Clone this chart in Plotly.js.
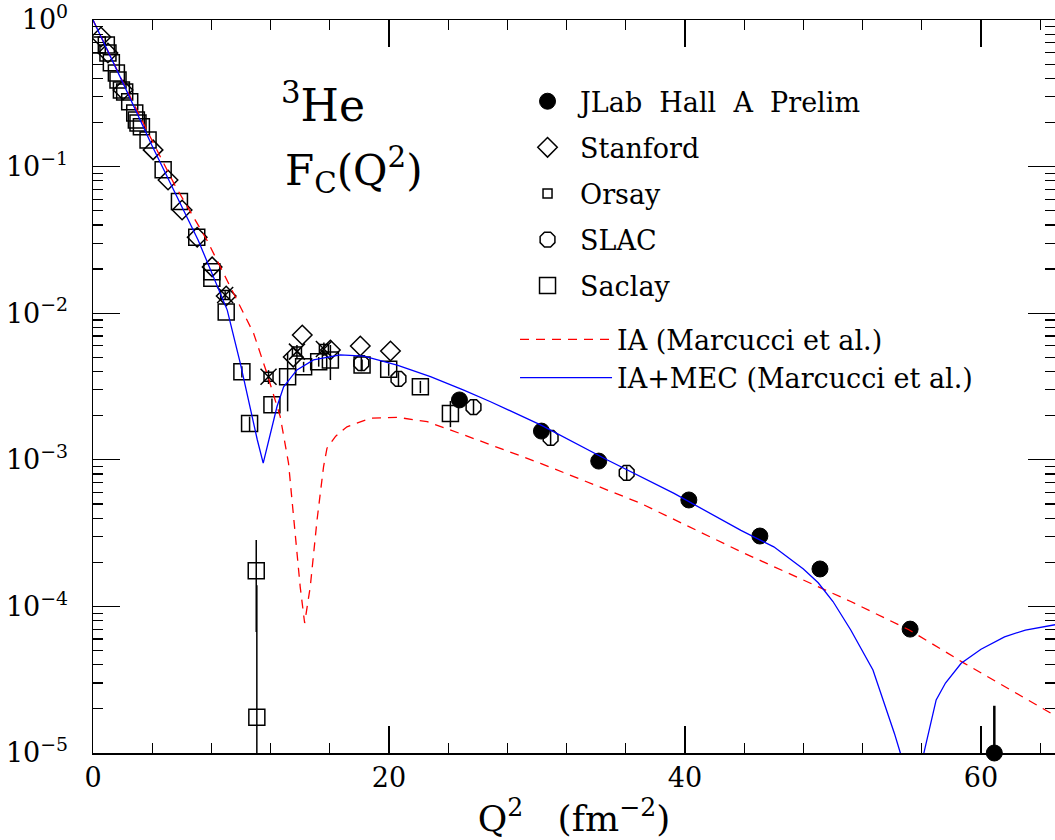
<!DOCTYPE html>
<html>
<head>
<meta charset="utf-8">
<script src="https://cdn.plot.ly/plotly-3.0.1.min.js"></script>
<style>html,body{margin:0;padding:0;background:#fff;}#chart{width:1055px;height:840px;}</style>
</head>
<body>
<div id="chart"></div>
<script>
// ---------- data ----------
const jlabQ2 = [24.76, 30.3, 34.17, 40.26, 45.06, 49.12, 55.21, 60.9];
const jlabF  = [2.56e-3, 1.57e-3, 9.8e-4, 5.32e-4, 3.02e-4, 1.80e-4, 7.0e-5, 1.0e-5];
const jlabErrUp   = [0, 0, 0, 0, 0, 0, 0, 1.1e-5];
const jlabErrDown = [0, 0, 0, 0, 0, 0, 0, 0];

const stanfordQ2 = [0.54, 1.01, 2.03, 4.06, 5.07, 6.02, 7.04, 8.05, 9.0, 13.53, 14.14, 16.04, 18.06, 20.1];
const stanfordF  = [0.766, 0.596, 0.333, 0.13, 0.081, 0.0506, 0.033, 0.0207, 0.0131, 5.02e-3, 7.1e-3, 5.61e-3, 5.97e-3, 5.52e-3];

const orsayQ2 = [8.93, 11.86, 13.78, 15.6];
const orsayF  = [0.0133, 3.69e-3, 5.47e-3, 5.7e-3];
const orsayErr = [0.8e-3, 0.4e-3, 0.6e-3, 0.6e-3];

const slacQ2 = [18.13, 20.64, 25.71, 30.92, 36.06];
const slacF  = [4.57e-3, 3.56e-3, 2.29e-3, 1.41e-3, 8.13e-4];
const slacErr = [5.5e-4, 4.0e-4, 2.7e-4, 1.6e-4, 9.0e-5];

const saclayQ2 = [0.29, 0.9, 1.01, 1.24, 1.58, 1.69, 1.92, 2.14, 2.48, 2.82, 2.93, 3.04, 3.27, 3.72, 4.74,
                  5.84, 7.01, 8.03, 8.03, 9.0, 10.06, 10.58, 11.03, 11.07, 12.09, 13.15, 14.23, 15.25, 16.04,
                  18.18, 19.98, 22.12, 24.15];
const saclayF  = [0.675, 0.675, 0.595, 0.51, 0.435, 0.39, 0.333, 0.323, 0.277, 0.232, 0.208, 0.198, 0.187, 0.152, 0.095,
                  0.0577, 0.033, 0.0192, 0.0173, 0.0102, 3.99e-3, 1.77e-3, 1.75e-4, 1.75e-5, 2.37e-3, 3.69e-3, 4.31e-3, 4.67e-3, 4.8e-3,
                  4.43e-3, 4.14e-3, 3.15e-3, 2.07e-3];
const saclayErrUp   = [0,0,0,0,0,0,0,0,0,0,0,0,0,0,0, 0,0,0,0,0, 3.5e-4, 2.0e-4, 1.09e-4, 1.22e-4, 2.5e-4, 1.66e-3, 3.5e-4, 3.5e-4, 1.27e-3,
                       4.0e-4, 4.0e-4, 3.0e-4, 4.5e-4];
const saclayErrDown = [0,0,0,0,0,0,0,0,0,0,0,0,0,0,0, 0,0,0,0,0, 3.5e-4, 2.0e-4, 1.08e-4, 1.74e-5, 2.5e-4, 1.55e-3, 3.5e-4, 3.5e-4, 1.3e-3,
                       4.0e-4, 4.0e-4, 3.0e-4, 4.0e-4];

const iaQ2 = [0, 2, 4, 5.52, 7.69, 9.72, 10.85, 11.75, 12.65, 13.21, 13.55, 14.0, 14.3, 14.68, 15.14, 15.58, 15.81, 16.4,
              17.16, 18.74, 20.55, 22.58, 25.05, 30.24, 37.0, 43.78, 51.2, 55.16, 58.88, 65];
const iaF  = [1, 0.38, 0.15, 0.075, 0.0316, 0.0123, 7.3e-3, 3.9e-3, 1.97e-3, 9.5e-4, 3.9e-4, 1.36e-4, 7.7e-5, 1.36e-4, 3.9e-4, 9.0e-4, 1.2e-3, 1.45e-3,
              1.68e-3, 1.92e-3, 1.95e-3, 1.82e-3, 1.48e-3, 9.46e-4, 5.05e-4, 2.36e-4, 1.08e-4, 6.9e-5, 4.09e-5, 1.8e-5];

const mecQ2 = [0, 2, 4, 5.41, 7.1, 9.07, 9.95, 11.1, 11.5, 12.43, 12.88, 13.78, 14.9, 16.7, 18.3, 20.55, 22.8, 25.05, 26.86,
               30.24, 34.76, 39.26, 43.78, 46, 48, 49, 50, 51.2, 52.7, 54.15, 54.55, 55.0, 55.8, 56.14, 56.97, 57.6, 58.66, 60, 61.59, 63, 65];
const mecF  = [1, 0.377, 0.138, 0.071, 0.0316, 0.0105, 4.57e-3, 1.37e-3, 9.5e-4, 2.3e-3, 3.15e-3, 4.1e-3, 4.8e-3, 5.19e-3, 5.1e-3, 4.43e-3, 3.69e-3, 2.99e-3, 2.49e-3,
               1.73e-3, 9.97e-4, 5.9e-4, 3.3e-4, 2.55e-4, 1.8e-4, 1.45e-4, 1.08e-4, 6.9e-5, 3.68e-5, 1.36e-5, 1.0e-5, 4e-6, 4e-6, 1.0e-5, 2.3e-5, 3.0e-5, 4.09e-5, 5.1e-5, 6.2e-5, 6.9e-5, 7.5e-5];

const yTickVals = [1, 0.1, 0.01, 0.001, 1e-4, 1e-5];
const yTickText = ['10<sup>0</sup>', '10<sup>\u22121</sup>', '10<sup>\u22122</sup>', '10<sup>\u22123</sup>', '10<sup>\u22124</sup>', '10<sup>\u22125</sup>'];

const seriesNames = ['JLab\u00a0\u00a0Hall\u00a0\u00a0A\u00a0\u00a0Prelim', 'Stanford', 'Orsay', 'SLAC', 'Saclay'];
const curveNames = ['IA (Marcucci et al.)', 'IA+MEC (Marcucci et al.)'];

// ---------- traces ----------
const FONT = 'DejaVu Serif';
const mline = {color: 'black', width: 1.5};
const traces = [
  {x: jlabQ2, y: jlabF, name: seriesNames[0], type: 'scatter', mode: 'markers', legendgroup: 'g1', cliponaxis: false,
   marker: {symbol: 'circle', size: 16, color: 'black', line: {color: 'black', width: 1}},
   error_y: {type: 'data', symmetric: false, array: jlabErrUp, arrayminus: jlabErrDown, width: 0, thickness: 2.5, color: 'black'}},
  {x: stanfordQ2, y: stanfordF, name: seriesNames[1], type: 'scatter', mode: 'markers', legendgroup: 'g2',
   marker: {symbol: 'diamond-open', size: 15, color: 'black', line: mline}},
  {x: orsayQ2, y: orsayF, name: seriesNames[2], type: 'scatter', mode: 'markers', legendgroup: 'g3',
   marker: {symbol: 'square-open', size: 9, color: 'black', line: mline},
   error_y: {type: 'data', array: orsayErr, width: 0, thickness: 1.5, color: 'black'}},
  {x: orsayQ2, y: orsayF, name: seriesNames[2], type: 'scatter', mode: 'markers', legendgroup: 'g3', showlegend: false,
   marker: {symbol: 'x-thin-open', size: 16, color: 'black', line: mline}},
  {x: slacQ2, y: slacF, name: seriesNames[3], type: 'scatter', mode: 'markers', legendgroup: 'g4',
   marker: {symbol: 'octagon-open', size: 16, color: 'black', line: mline},
   error_y: {type: 'data', array: slacErr, width: 0, thickness: 1.5, color: 'black'}},
  {x: saclayQ2, y: saclayF, name: seriesNames[4], type: 'scatter', mode: 'markers', legendgroup: 'g5',
   marker: {symbol: 'square-open', size: 16, color: 'black', line: mline},
   error_y: {type: 'data', symmetric: false, array: saclayErrUp, arrayminus: saclayErrDown, width: 0, thickness: 1.5, color: 'black'}},
  {x: iaQ2, y: iaF, name: curveNames[0], type: 'scatter', mode: 'lines', legend: 'legend2',
   line: {color: '#ff0000', width: 1.3, dash: '9px,7px'}},
  {x: mecQ2, y: mecF, name: curveNames[1], type: 'scatter', mode: 'lines', legend: 'legend2',
   line: {color: '#0000ff', width: 1.3}}
];

const axisCommon = {
  ticks: 'inside', ticklen: 27, tickwidth: 1.2, tickcolor: 'black',
  showline: true, linecolor: 'black', linewidth: 1.5, mirror: 'ticks',
  showgrid: false, zeroline: false, automargin: false,
  tickfont: {family: FONT, size: 27, color: 'black'}
};

const layout = {
  width: 1055, height: 840,
  margin: {l: 93, r: 0, t: 20, b: 87},
  paper_bgcolor: 'white', plot_bgcolor: 'white',
  font: {family: FONT, color: 'black'},
  showlegend: true,
  xaxis: Object.assign({}, axisCommon, {
    range: [0, 65], tick0: 0, dtick: 20,
    minor: {tick0: 0, dtick: 4, ticks: 'inside', ticklen: 10, tickwidth: 1.2, tickcolor: 'black', showgrid: false},
    title: {text: 'Q<sup>2</sup>\u00a0\u00a0\u00a0(fm<sup>\u22122</sup>)\u00a0\u00a0\u00a0\u00a0', font: {family: FONT, size: 36}, standoff: 8}
  }),
  yaxis: Object.assign({}, axisCommon, {
    type: 'log', range: [-5, 0],
    tickmode: 'array', tickvals: yTickVals, ticktext: yTickText,
    ticklabelstandoff: 18,
    minor: {dtick: 'D1', ticks: 'inside', ticklen: 10, tickwidth: 1.2, tickcolor: 'black', showgrid: false}
  }),
  legend: {x: 0.4387, y: 0.922, xanchor: 'left', yanchor: 'top', bgcolor: 'rgba(0,0,0,0)',
           font: {family: FONT, size: 27, color: 'black'}, itemwidth: 55, tracegroupgap: 8, traceorder: 'grouped'},
  legend2: {x: 0.4387, y: 0.597, xanchor: 'left', yanchor: 'top', bgcolor: 'rgba(0,0,0,0)',
            font: {family: FONT, size: 27, color: 'black'}, itemwidth: 92},
  annotations: [
    {text: '<sup>3</sup>He', xref: 'paper', yref: 'paper', x: 0.193, y: 0.888, xanchor: 'left', yanchor: 'middle',
     showarrow: false, font: {family: FONT, size: 44, color: 'black'}},
    {text: 'F<sub>C</sub>(Q<sup>2</sup>)', xref: 'paper', yref: 'paper', x: 0.198, y: 0.795, xanchor: 'left', yanchor: 'middle',
     showarrow: false, font: {family: FONT, size: 42, color: 'black'}}
  ]
};

Plotly.newPlot('chart', traces, layout, {displayModeBar: false, staticPlot: true});
</script>
</body>
</html>
